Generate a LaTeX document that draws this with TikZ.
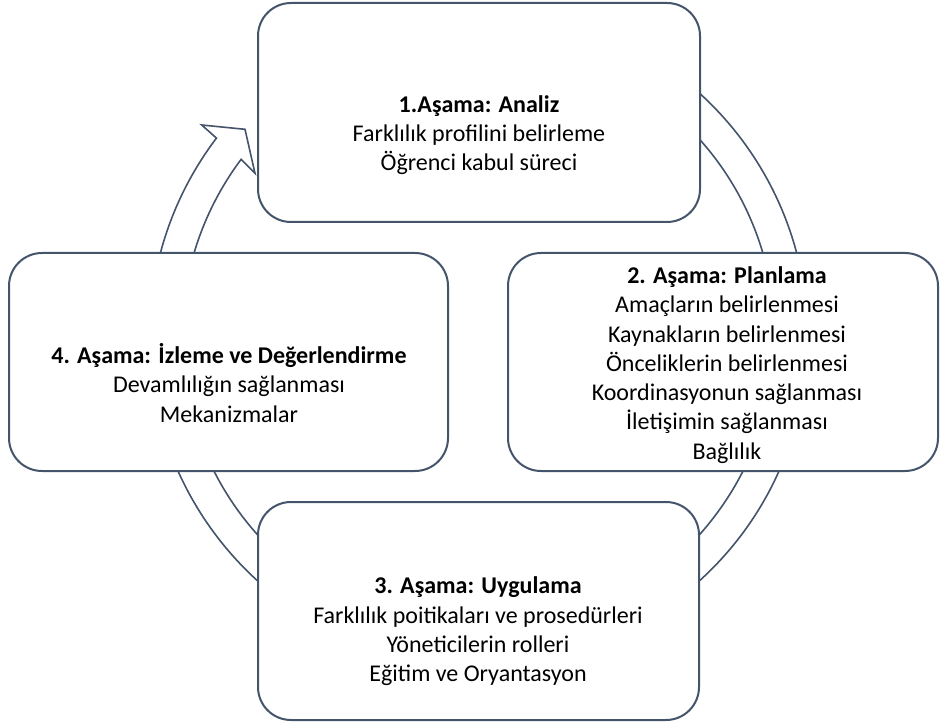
\documentclass[tikz,border=0pt]{standalone}
\usepackage{fontspec}
\setmainfont{Carlito}
\usetikzlibrary{calc}
\definecolor{ln}{HTML}{44546A}
\tikzset{
  stagebox/.style={draw=ln, line width=2pt, fill=white, rounded corners=33pt, inner sep=0pt},
  ringarrow/.style={draw=ln, line width=1.6pt, fill=white, line join=miter},
  stagetext/.style={align=center, inner sep=0pt, text=black, font=\fontsize{24}{29.3}\selectfont}
}
\begin{document}
\begin{tikzpicture}[x=1pt,y=-1pt]
\useasboundingbox (0,0) rectangle (940,727);
\coordinate (c) at (478.5,337);
\coordinate (barbout) at (201.7,125);
\coordinate (tip) at (245,129.3);
\coordinate (barbin) at (255,173.3);
% circular arrow
\draw[ringarrow] ($(c)+(-80:329)$) arc[start angle=-80, end angle=217.2, radius=329]
  -- (barbout) -- (tip) -- (barbin)
  -- ($(c)+(216.8:296.5)$) arc[start angle=216.8, end angle=-80, radius=296.5] -- cycle;
% boxes
\node[stagebox, minimum width=442pt, minimum height=219pt] (b1) at (479,112.5) {};
\node[stagebox, minimum width=430pt, minimum height=218pt] (b2) at (723,362) {};
\node[stagebox, minimum width=441pt, minimum height=218pt] (b3) at (478.5,611) {};
\node[stagebox, minimum width=439pt, minimum height=218pt] (b4) at (228.5,362) {};
% texts
\node[stagetext] (t1) at (479,135) {\textbf{1.Aşama: Analiz}\\Farklılık profilini belirleme\\Öğrenci kabul süreci};
\node[stagetext] (t2) at (727,365) {\textbf{2. Aşama: Planlama}\\Amaçların belirlenmesi\\Kaynakların belirlenmesi\\Önceliklerin belirlenmesi\\Koordinasyonun sağlanması\\İletişimin sağlanması\\Bağlılık};
\node[stagetext] (t3) at (478,631.5) {\textbf{3. Aşama: Uygulama}\\Farklılık poitikaları ve prosedürleri\\Yöneticilerin rolleri\\Eğitim ve Oryantasyon};
\node[stagetext] (t4) at (229,383) {\textbf{4. Aşama: İzleme ve Değerlendirme}\\Devamlılığın sağlanması\\Mekanizmalar};
\end{tikzpicture}
\end{document}
